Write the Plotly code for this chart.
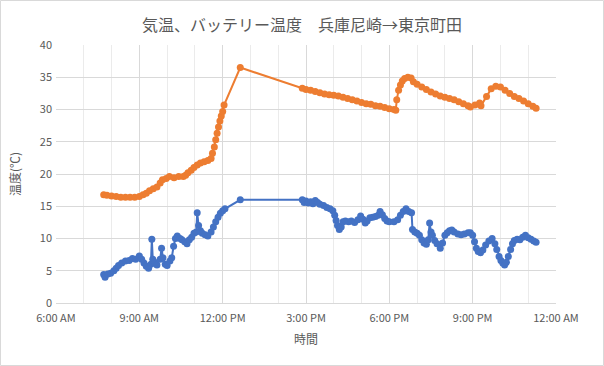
import plotly.graph_objects as go

DAY = "2020-01-01 "

orange_times = ["07:43","07:50","08:00","08:10","08:20","08:30","08:40","08:50","09:00","09:08",
"09:15","09:22","09:30","09:38","09:45","09:50","09:58","10:05","10:15","10:25",
"10:35","10:40","10:45","10:52","10:58","11:05","11:12","11:20","11:28","11:35",
"11:38","11:42","11:45","11:48","11:51","11:54","11:57","12:00","12:03","12:38",
"14:52","15:00","15:10","15:20","15:30","15:40","15:50","16:00","16:10","16:20",
"16:30","16:40","16:50","17:00","17:10","17:20","17:30","17:40","17:50","18:00",
"18:10","18:14","18:16","18:20","18:24","18:28","18:33","18:40","18:47","18:52",
"19:00","19:10","19:20","19:30","19:40","19:50","20:00","20:10","20:20","20:30",
"20:40","20:50","20:55","21:05","21:15","21:18","21:30","21:40","21:50","22:00",
"22:10","22:20","22:30","22:40","22:50","23:00","23:10","23:17"]
orange_values = [16.8,16.7,16.6,16.5,16.4,16.4,16.4,16.4,16.5,16.8,
17.0,17.4,17.7,18.0,18.6,19.1,19.3,19.6,19.4,19.6,
19.6,19.8,20.2,20.6,21.0,21.4,21.7,21.9,22.1,22.4,
23.2,24.2,25.3,26.3,27.3,28.2,29.0,29.7,30.7,36.5,
33.3,33.1,33.0,32.8,32.6,32.4,32.3,32.2,32.1,31.9,
31.7,31.5,31.3,31.1,30.9,30.8,30.6,30.5,30.3,30.1,
30.0,29.9,31.5,33.0,33.8,34.4,34.8,35.0,34.9,34.3,
33.9,33.5,33.1,32.7,32.4,32.1,31.9,31.7,31.5,31.2,
30.9,30.6,30.4,30.7,31.0,30.6,32.0,33.2,33.6,33.5,
33.0,32.5,32.0,31.7,31.3,30.9,30.5,30.2]

blue_times = ["07:43","07:46","07:52","07:58","08:05","08:10","08:15","08:22","08:30","08:38",
"08:45","08:52","09:00","09:05","09:10","09:15","09:20","09:25","09:27","09:29",
"09:33","09:38","09:45","09:48","09:51","09:56","10:00","10:06","10:10","10:14",
"10:18","10:22","10:28","10:32","10:38","10:43","10:48","10:53","10:58","11:03",
"11:05","11:08","11:12","11:16","11:22","11:28","11:35","11:40","11:45","11:50",
"11:55","12:00","12:05","12:38","14:52","14:56","15:00","15:05","15:10","15:15",
"15:20","15:25","15:30","15:38","15:45","15:52","15:58","16:02","16:05","16:08",
"16:12","16:16","16:20","16:25","16:32","16:38","16:45","16:52","16:58","17:03",
"17:08","17:12","17:18","17:24","17:30","17:36","17:40","17:45","17:50","17:55",
"18:00","18:10","18:18","18:24","18:30","18:36","18:42","18:48","18:50","18:55",
"19:00","19:05","19:10","19:15","19:20","19:24","19:27","19:30","19:33","19:38",
"19:43","19:50","19:55","20:00","20:05","20:10","20:15","20:20","20:28","20:35",
"20:42","20:50","20:55","21:00","21:04","21:08","21:12","21:17","21:22","21:28",
"21:35","21:42","21:48","21:52","21:57","22:01","22:05","22:09","22:13","22:17",
"22:22","22:26","22:30","22:36","22:42","22:48","22:54","23:00","23:06","23:12","23:17"]
blue_values = [4.4,4.0,4.5,4.6,5.0,5.4,5.8,6.2,6.5,6.6,
6.9,6.8,7.3,6.8,6.2,5.7,5.4,6.0,9.9,6.8,
6.3,5.9,6.8,8.5,7.0,6.0,5.8,6.5,7.0,8.8,
10.0,10.4,10.0,9.8,9.5,9.2,9.8,10.2,10.8,11.0,
14.0,12.0,11.2,10.8,10.6,10.4,11.0,11.8,12.6,13.3,
13.9,14.3,14.6,16.0,16.0,15.6,15.8,15.5,15.7,15.4,
15.9,15.6,15.3,15.1,14.8,14.6,14.3,13.6,12.8,12.0,
11.4,11.8,12.6,12.7,12.6,12.7,12.5,12.9,13.5,13.0,
12.4,12.7,13.2,13.3,13.4,13.6,14.2,13.7,13.1,12.7,
12.6,12.6,12.9,13.6,14.2,14.6,14.2,14.0,11.4,11.0,
10.8,10.5,9.8,9.3,9.1,9.8,12.4,11.0,10.5,9.7,
9.2,8.5,9.3,10.5,10.9,11.2,11.3,11.0,10.7,10.6,
10.7,10.9,10.9,10.5,9.5,8.5,8.0,7.8,8.2,9.0,
9.6,10.0,9.2,8.3,7.2,6.6,6.2,5.9,6.3,7.2,
8.3,9.2,9.7,9.9,9.8,10.2,10.5,10.1,9.9,9.6,9.4]

y_ticks = [0, 5, 10, 15, 20, 25, 30, 35, 40]

title_text = "気温、バッテリー温度　兵庫尼崎→東京町田"
y_title = "温度(℃)"
x_title = "時間"

FONT = "Noto Sans CJK JP"
GREY = "#595959"

fig = go.Figure()
fig.add_trace(go.Scatter(
    x=[DAY + t for t in blue_times], y=blue_values, mode="lines+markers",
    line=dict(color="#4472C4", width=2), marker=dict(color="#4472C4", size=7),
    showlegend=False))
fig.add_trace(go.Scatter(
    x=[DAY + t for t in orange_times], y=orange_values, mode="lines+markers",
    line=dict(color="#ED7D31", width=2), marker=dict(color="#ED7D31", size=7),
    showlegend=False))

fig.update_layout(
    width=604, height=366,
    margin=dict(l=56, r=48, t=45, b=63, autoexpand=False),
    paper_bgcolor="white", plot_bgcolor="white",
    font=dict(family=FONT, color=GREY, size=11),
    title=dict(text=title_text, x=0.5, xanchor="center", y=0.93, yanchor="middle",
               font=dict(size=16, color=GREY, family=FONT)),
    xaxis=dict(
        type="date", range=["2020-01-01 06:00", "2020-01-02 00:00"],
        dtick=3 * 3600000, tick0="2020-01-01 06:00", tickformat="%-I:%M %p",
        showgrid=True, gridcolor="#D9D9D9", gridwidth=1,
        minor=dict(dtick=3600000, tick0="2020-01-01 06:00", showgrid=True,
                   gridcolor="#EBEBEB", gridwidth=1),
        showline=True, linecolor="#D9D9D9", zeroline=False, ticks="",
        ticklabelstandoff=5,
        tickfont=dict(size=11, color=GREY), automargin=False,
        title=dict(text=x_title, font=dict(size=12, color=GREY), standoff=11),
    ),
    yaxis=dict(
        range=[0, 40], tickvals=y_ticks, showgrid=True, gridcolor="#D9D9D9",
        zeroline=False, showline=False, ticks="", automargin=False,
        ticklabelstandoff=3,
        tickfont=dict(size=11, color=GREY),
        title=dict(text=y_title, font=dict(size=12, color=GREY), standoff=16),
    ),
    shapes=[dict(type="rect", xref="paper", yref="paper",
                 x0=-0.111, x1=1.095, y0=-0.2422, y1=1.1725,
                 line=dict(color="#D9D9D9", width=1), fillcolor="rgba(0,0,0,0)")],
)

fig.write_html("out.html", config={"displayModeBar": False},
               post_script="document.body.style.margin='0';document.body.style.overflow='hidden';")
